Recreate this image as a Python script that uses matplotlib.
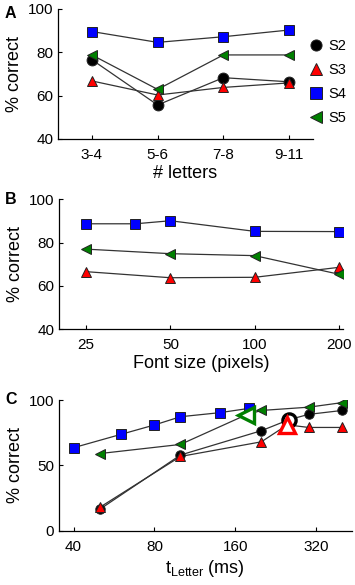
import matplotlib
matplotlib.use("Agg")
import matplotlib.pyplot as plt
from matplotlib.lines import Line2D
from matplotlib.ticker import FixedLocator, NullLocator

plt.rcParams['font.family'] = ['Liberation Sans', 'DejaVu Sans']
plt.rcParams['mathtext.fontset'] = 'custom'
plt.rcParams['mathtext.rm'] = 'Liberation Sans'

# ---------------- data ----------------
subjects = ['S2', 'S3', 'S4', 'S5']

letter_cats = ['3-4', '5-6', '7-8', '9-11']
A_S2 = [76.6, 55.7, 68.3, 66.4]
A_S3 = [66.8, 60.3, 63.8, 65.9]
A_S4 = [89.6, 84.6, 87.2, 90.3]
A_S5 = [78.8, 62.9, 78.8, 78.8]

B_size_S4 = [25, 37.5, 50, 100, 200]
B_S4 = [88.7, 88.7, 90.1, 85.2, 85.1]
B_size = [25, 50, 100, 200]
B_S3 = [66.6, 63.8, 64.0, 68.6]
B_S5 = [77.0, 74.9, 74.0, 65.4]
B_ticks = [25, 50, 100, 200]

C_t_S4 = [40, 60, 80, 100, 140, 180]
C_S4 = [63.5, 73.7, 80.9, 87.2, 90.3, 93.6]
C_t = [50, 100, 200, 300, 400]
C_S2 = [16.3, 57.9, 76.5, 89.0, 92.0]
C_S3 = [17.8, 56.8, 68.0, 79.0, 79.0]
C_S5 = [59.0, 66.0, 92.0, 94.5, 98.0]
# open (threshold) points
C_open_t = {'S2': 254, 'S3': 250, 'S5': 175}
C_open_v = {'S2': 85.0, 'S3': 81.0, 'S5': 88.5}
C_ticks = [40, 80, 160, 320]

# ---------------- styles ----------------
style = {
    'S2': dict(marker='o', color='black'),
    'S3': dict(marker='^', color='#ff0000'),
    'S4': dict(marker='s', color='#0000ff'),
    'S5': dict(marker='<', color='#008000'),
}
zord = {'S2': 3, 'S3': 4, 'S4': 5, 'S5': 6}
LC = '#333333'
TFS = 11
LFS = 13

W, H = 355, 585
fig = plt.figure(figsize=(W / 100, H / 100), dpi=100)


def mkax(l, r, t, b):
    ax = fig.add_axes([l / W, 1 - b / H, (r - l) / W, (b - t) / H])
    for s in ['top', 'right']:
        ax.spines[s].set_visible(False)
    for s in ['left', 'bottom']:
        ax.spines[s].set_linewidth(0.9)
    ax.tick_params(direction='in', length=3, width=0.8, labelsize=TFS)
    ax.tick_params(axis='y', pad=3.5)
    ax.tick_params(axis='x', pad=6.5)
    return ax


def plot_series(ax, x, y, name, ms=7.8):
    st = style[name]
    ax.plot(x, y, '-', color=LC, lw=0.9, zorder=2)
    ax.plot(x, y, linestyle='none', marker=st['marker'], ms=ms,
            mfc=st['color'], mec='#222222', mew=0.7, zorder=zord[name])


# ---------------- panel A ----------------
axA = mkax(58, 313, 9, 139)
xA = list(range(1, len(letter_cats) + 1))
for name, vals in zip(subjects, [A_S2, A_S3, A_S4, A_S5]):
    plot_series(axA, xA, vals, name)
axA.set_xlim(1 - 34 / 66, 4 + 24 / 66)
axA.set_ylim(40, 100)
axA.set_yticks([40, 60, 80, 100])
axA.set_xticks(xA)
axA.set_xticklabels(letter_cats)
axA.set_xlabel('# letters', fontsize=LFS, labelpad=2)
axA.set_ylabel('% correct', fontsize=LFS, labelpad=3)

handles = [Line2D([], [], linestyle='none', marker=style[n]['marker'], ms=8.0,
                  mfc=style[n]['color'], mec='#222222', mew=0.7) for n in subjects]
axA.legend(handles, subjects, loc='upper left', bbox_to_anchor=(0.99, 0.77),
           frameon=False, fontsize=10.5, handlelength=0.8, handletextpad=0.45,
           labelspacing=0.68, borderaxespad=0, borderpad=0)

# ---------------- panel B ----------------
axB = mkax(59, 343, 199.3, 329.3)
plot_series(axB, B_size, B_S3, 'S3')
plot_series(axB, B_size_S4, B_S4, 'S4')
plot_series(axB, B_size, B_S5, 'S5')
axB.set_xscale('log')
axB.set_xlim(20.0, 206.6)
axB.set_ylim(40, 100)
axB.set_yticks([40, 60, 80, 100])
axB.xaxis.set_major_locator(FixedLocator(B_ticks))
axB.xaxis.set_minor_locator(NullLocator())
axB.set_xticklabels([str(v) for v in B_ticks])
axB.set_xlabel('Font size (pixels)', fontsize=LFS, labelpad=2)
axB.set_ylabel('% correct', fontsize=LFS, labelpad=3)

# ---------------- panel C ----------------
axC = mkax(59, 351.7, 400, 530.7)
series_C = {'S2': (C_t, C_S2), 'S3': (C_t, C_S3), 'S4': (C_t_S4, C_S4), 'S5': (C_t, C_S5)}
for name in subjects:
    x, y = series_C[name]
    x = list(x)
    y = list(y)
    if name in C_open_t:
        pts = sorted(zip(x + [C_open_t[name]], y + [C_open_v[name]]))
        lx = [p[0] for p in pts]
        ly = [p[1] for p in pts]
    else:
        lx, ly = x, y
    axC.plot(lx, ly, '-', color=LC, lw=0.9, zorder=2)
    st = style[name]
    axC.plot(x, y, linestyle='none', marker=st['marker'], ms=6.8,
             mfc=st['color'], mec='#222222', mew=0.7, zorder=zord[name])
open_ms = {'S2': 9.5, 'S3': 11.5, 'S5': 11}
for name in ['S2', 'S5', 'S3']:
    st = style[name]
    axC.plot([C_open_t[name]], [C_open_v[name]], linestyle='none', marker=st['marker'],
             ms=open_ms[name], mfc='white', mec=st['color'], mew=2.4, zorder=10)
axC.set_xscale('log')
axC.set_xlim(35.3, 434)
axC.set_ylim(0, 100)
axC.set_yticks([0, 50, 100])
axC.xaxis.set_major_locator(FixedLocator(C_ticks))
axC.xaxis.set_minor_locator(NullLocator())
axC.set_xticklabels([str(v) for v in C_ticks])
axC.set_xlabel(r'$\mathregular{t_{Letter}}$ (ms)', fontsize=LFS, labelpad=3)
axC.set_ylabel('% correct', fontsize=LFS, labelpad=3)

# panel letters
for lab, y in [('A', 14), ('B', 200), ('C', 399)]:
    fig.text(5 / W, 1 - y / H, lab, fontsize=11.5, fontweight='bold', va='center', ha='left')

fig.savefig('out.png', dpi=100)
